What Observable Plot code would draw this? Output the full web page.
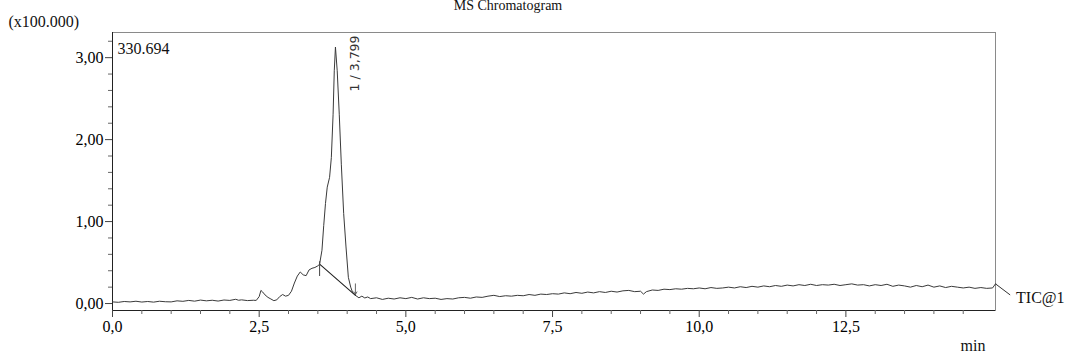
<!DOCTYPE html>
<html><head><meta charset="utf-8">
<script src="https://cdn.jsdelivr.net/npm/d3@7"></script>
<script src="https://cdn.jsdelivr.net/npm/@observablehq/plot@0.6"></script>
<style>body{margin:0;background:#fff;}</style>
</head><body><div id="chart"></div>
<script>
// ---- texts ----
const title = "MS Chromatogram";
const yUnit = "(x100.000)";
const maxIntensityLabel = "330.694";
const traceLabel = "TIC@1";
const xLabel = "min";
const peakLabel = "1 / 3,799";
const peakTime = 3.799;

// ---- scales / ticks ----
const xDomain = [0, 15.05];
const yDomain = [-0.085, 3.30694];
const xMajorTicks = [0, 2.5, 5, 7.5, 10, 12.5];
const xMinorTicks = [0.5, 1, 1.5, 2, 3, 3.5, 4, 4.5, 5.5, 6, 6.5, 7, 8, 8.5, 9, 9.5, 10.5, 11, 11.5, 12, 13, 13.5, 14, 14.5];
const yMajorTicks = [0, 1, 2, 3];
const yMinorTicks = [0.2, 0.4, 0.6, 0.8, 1.2, 1.4, 1.6, 1.8, 2.2, 2.4, 2.6, 2.8, 3.2];

// ---- trace (time in min, intensity in x100.000) ----
const baselineEarly = [
  [0.0,0.020],[0.1,0.015],[0.2,0.025],[0.3,0.020],[0.4,0.028],[0.5,0.018],[0.6,0.025],[0.7,0.017],
  [0.8,0.028],[0.9,0.022],[1.0,0.020],[1.1,0.033],[1.2,0.027],[1.3,0.038],[1.4,0.029],[1.5,0.042],
  [1.6,0.033],[1.7,0.040],[1.8,0.030],[1.9,0.043],[2.0,0.038],[2.1,0.052],[2.15,0.040],[2.2,0.045],
  [2.3,0.036],[2.4,0.040]
];
const peakRegion = [
  [2.45,0.038],[2.5,0.085],[2.53,0.160],[2.56,0.140],[2.6,0.105],[2.65,0.075],[2.7,0.055],[2.75,0.035],
  [2.8,0.045],[2.85,0.085],[2.9,0.110],[2.95,0.090],[3.0,0.100],[3.05,0.150],[3.1,0.250],[3.15,0.335],
  [3.2,0.385],[3.25,0.350],[3.3,0.340],[3.35,0.410],[3.4,0.430],[3.45,0.440],[3.5,0.460],[3.53,0.480],
  [3.57,0.650],[3.6,0.950],[3.63,1.220],[3.66,1.420],[3.7,1.540],[3.73,1.780],[3.76,2.310],[3.78,2.840],
  [3.80,3.130],[3.83,2.840],[3.865,2.310],[3.90,1.700],[3.94,1.100],[3.98,0.690],[4.02,0.320],[4.06,0.200],
  [4.09,0.140],[4.14,0.100],[4.2,0.070],[4.25,0.090],[4.3,0.068],[4.35,0.080],[4.4,0.060]
];
const baselineLate = [
  [4.5,0.070],[4.6,0.050],[4.7,0.065],[4.8,0.055],[4.9,0.070],[5.0,0.060],[5.1,0.075],[5.2,0.055],
  [5.3,0.070],[5.4,0.060],[5.5,0.065],[5.6,0.050],[5.7,0.060],[5.8,0.055],[5.9,0.070],[6.0,0.075],
  [6.1,0.065],[6.2,0.080],[6.3,0.075],[6.4,0.090],[6.5,0.100],[6.6,0.085],[6.7,0.095],[6.8,0.090],
  [6.9,0.100],[7.0,0.095],[7.1,0.110],[7.2,0.100],[7.3,0.115],[7.4,0.110],[7.5,0.120],[7.6,0.115],
  [7.7,0.130],[7.8,0.120],[7.9,0.135],[8.0,0.125],[8.1,0.140],[8.2,0.130],[8.3,0.145],[8.4,0.135],
  [8.5,0.150],[8.6,0.140],[8.7,0.155],[8.8,0.160],[8.9,0.145],[9.0,0.150],[9.05,0.115],[9.1,0.145],
  [9.2,0.165],[9.3,0.160],[9.4,0.175],[9.5,0.170],[9.6,0.180],[9.7,0.175],[9.8,0.185],[9.9,0.180],
  [10.0,0.190],[10.1,0.180],[10.2,0.195],[10.3,0.185],[10.4,0.190],[10.5,0.200],[10.6,0.190],[10.7,0.205],
  [10.8,0.195],[10.9,0.210],[11.0,0.200],[11.1,0.215],[11.2,0.205],[11.3,0.220],[11.4,0.210],[11.5,0.225],
  [11.6,0.215],[11.7,0.230],[11.8,0.220],[11.9,0.235],[12.0,0.220],[12.1,0.230],[12.2,0.225],[12.3,0.235],
  [12.4,0.220],[12.5,0.230],[12.6,0.240],[12.7,0.225],[12.8,0.230],[12.9,0.215],[13.0,0.230],[13.1,0.220],
  [13.2,0.235],[13.3,0.210],[13.4,0.225],[13.5,0.215],[13.6,0.200],[13.7,0.220],[13.8,0.205],[13.9,0.225],
  [14.0,0.200],[14.1,0.215],[14.2,0.195],[14.3,0.210],[14.4,0.200],[14.5,0.190],[14.6,0.200],[14.7,0.185],
  [14.8,0.195],[14.9,0.185],[15.0,0.190],[15.05,0.240]
];
// integration baseline (start / end of peak 1)
const integrationStart = [3.53, 0.48];
const integrationEnd = [4.14, 0.10];
// leader line for trace label and label anchor
const traceLabelAnchor = [15.30, 0.105];
const traceLabelPos = [15.40, 0.065];

const trace = [...baselineEarly, ...peakRegion, ...baselineLate].map(([t, v]) => ({t, v}));
const integration = [integrationStart, integrationEnd].map(([t, v]) => ({t, v}));
const lastPoint = trace[trace.length - 1];

const fmtY = d => d.toFixed(2).replace(".", ",");
const fmtX = d => d.toFixed(1).replace(".", ",");
const serif = "'Liberation Serif', 'Times New Roman', serif";

const chart = Plot.plot({
  width: 1073,
  height: 360,
  marginLeft: 112,
  marginRight: 78,
  marginTop: 32,
  marginBottom: 50,
  style: {fontFamily: serif, fontSize: "16px", color: "#000", background: "#fff", overflow: "visible"},
  x: {domain: xDomain},
  y: {domain: yDomain},
  marks: [
    Plot.frame({stroke: "#8a8a8a"}),
    Plot.ruleX([xDomain[0]], {stroke: "#222"}),
    Plot.ruleY([yDomain[0]], {stroke: "#222"}),
    Plot.axisY(yMajorTicks, {tickSize: 7, tickPadding: 2, tickFormat: fmtY, label: null, stroke: "#444", fontFamily: serif}),
    Plot.axisY(yMinorTicks, {tickSize: 4, fill: "none", label: null, stroke: "#666"}),
    Plot.axisX(xMajorTicks, {tickSize: 7, tickPadding: 3, tickFormat: fmtX, label: null, stroke: "#444", fontFamily: serif}),
    Plot.axisX(xMinorTicks, {tickSize: 4, fill: "none", label: null, stroke: "#666"}),
    Plot.line(trace, {x: "t", y: "v", stroke: "#3a3a3a", strokeWidth: 1}),
    Plot.line(integration, {x: "t", y: "v", stroke: "#222", strokeWidth: 1.1}),
    Plot.ruleX([integrationStart[0]], {y1: integrationStart[1] + 0.03, y2: integrationStart[1] - 0.15, stroke: "#444"}),
    Plot.arrow([integrationEnd], {x1: d => d[0], x2: d => d[0], y1: d => d[1] + 0.14, y2: d => d[1] + 0.01, stroke: "#555", headLength: 5, strokeWidth: 0.9}),
    Plot.link([lastPoint], {x1: "t", y1: "v", x2: () => traceLabelAnchor[0], y2: () => traceLabelAnchor[1], stroke: "#333", clip: false}),
    Plot.text([traceLabel], {x: () => traceLabelPos[0], y: () => traceLabelPos[1], text: d => d, textAnchor: "start", fontFamily: serif, fontSize: 16, fill: "#111"}),
    Plot.text([peakLabel], {x: () => peakTime, y: () => yDomain[1], text: d => d, rotate: -90, textAnchor: "end", dx: 20, dy: 3, fontFamily: "'DejaVu Sans', sans-serif", fontSize: 12.5, fill: "#333"}),
    Plot.text([maxIntensityLabel], {frameAnchor: "top-left", text: d => d, textAnchor: "start", dx: 5, dy: 10, fontFamily: serif, fontSize: 16, fill: "#111"}),
    Plot.text([yUnit], {frameAnchor: "top-left", text: d => d, textAnchor: "start", dx: -104, dy: -17, fontFamily: serif, fontSize: 16, fill: "#111"}),
    Plot.text([title], {frameAnchor: "top", text: d => d, lineAnchor: "top", dx: -46, dy: -32, fontFamily: serif, fontSize: 14, fill: "#111"}),
    Plot.text([xLabel], {frameAnchor: "bottom-right", text: d => d, dx: -10, dy: 40, fontFamily: serif, fontSize: 16, fill: "#111"})
  ]
});
document.getElementById("chart").appendChild(chart);
</script>
</body></html>
